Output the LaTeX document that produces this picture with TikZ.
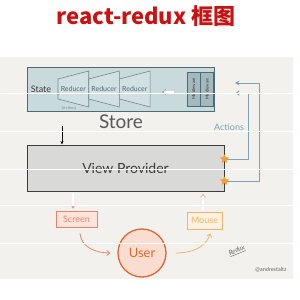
\documentclass[tikz,border=0pt]{standalone}
\usepackage{fontspec}
\setmainfont{Lato}
\newfontfamily\cjk{Noto Sans CJK SC}
\newfontfamily\hand{Lato}
\usepackage{tikz}
\usetikzlibrary{positioning}
\usetikzlibrary{shapes.geometric}
\usetikzlibrary{arrows.meta}
\usepackage{xcolor}

\definecolor{titlered}{HTML}{CC1111}
\definecolor{panelgray}{HTML}{F2F1EE}
\definecolor{storefill}{HTML}{C9DADD}
\definecolor{storeline}{HTML}{4E6B75}
\definecolor{viewfill}{HTML}{D9D9D7}
\definecolor{viewline}{HTML}{3C3C3C}
\definecolor{actblue}{HTML}{7FA3B0}
\definecolor{screenred}{HTML}{EE8466}
\definecolor{screenfill}{HTML}{FBE4DC}
\definecolor{mouseorange}{HTML}{F4B366}
\definecolor{mousefill}{HTML}{FDF1E2}
\definecolor{userline}{HTML}{E0672D}
\definecolor{userfill}{HTML}{F8DDD0}
\definecolor{starorange}{HTML}{F5A030}

\tikzset{
  sz/.style={font=\hand\fontsize{#1}{#1}\selectfont},
  storebox/.style={draw=storeline, fill=storefill, line width=0.9pt},
  reducer/.style={draw=storeline!80, fill=storefill!85!white, line width=0.6pt},
  midbox/.style={draw=storeline, fill=storeline!30!storefill, line width=0.6pt,
    minimum width=13pt, minimum height=34pt, inner sep=0pt},
  viewbox/.style={draw=viewline, fill=viewfill, line width=1pt},
  act/.style={draw=actblue, line width=1pt},
  bang/.style={star, star points=5, star point ratio=2.2, fill=starorange,
    minimum size=9pt, inner sep=0pt},
  dbl/.style={double, double distance=1.4pt, line width=0.6pt,
    -{Implies[length=3pt]}},
}

\begin{document}
\begin{tikzpicture}[x=1pt,y=-1pt]
  \useasboundingbox (0,0) rectangle (300,300);
  \node[text=titlered] (title) at (146,16)
    {\cjk\bfseries\fontsize{22}{22}\selectfont react-redux 框图};
  \fill[panelgray] (0,57) rectangle (293,279);

  % store
  \node[storebox, minimum width=187pt, minimum height=44pt] (store) at (120.5,89) {};
  \node[sz=9, text=viewline] (state) at (41,89) {State};
  \foreach \i in {0,1,2} {
    \pgfmathsetmacro\xa{58+30.7*\i}
    \pgfmathsetmacro\xb{\xa+30.7}
    \draw[reducer] (\xa,79) -- (\xb,71) -- (\xb,107) -- (\xa,99) -- cycle;
    \node[sz=7, text=storeline, inner sep=0pt] (red\i) at (\xa/2+\xb/2,89) {Reducer};
  }
  \node[sz=4, text=storeline!70] (sect) at (69,108) {Sections};
  \draw[storeline!60, dbl] (174,92) -- (162,92);
  \node[midbox] (mid1) at (193.5,89) {};
  \node[midbox, right=0pt of mid1] (mid2) {};
  \foreach \m in {mid1,mid2}
    \node[sz=4.2, rotate=90, text=viewline] at (\m) {Middleware};
  \node[sz=19, text=viewline!85] (storelbl) at (121,122) {Store};

  % view provider
  \node[viewbox, minimum width=197pt, minimum height=46pt, sz=14, text=viewline]
    (view) at (125.5,168) {View Provider};
  \coordinate (down) at (62,126);
  \draw[line width=0.6pt, -{Stealth[length=3.5pt,width=3pt]}] (down) -- (down |- view.north);

  % actions
  \node[bang] (s1) at ([yshift=9pt]view.east) {};
  \node[bang] (s2) at ([yshift=-13pt]view.east) {};
  \coordinate (a1) at (235,83);
  \coordinate (a2) at (236,93);
  \draw[act, -{Stealth[length=4.5pt,width=4.5pt]}] (s2.center) -| (259,83) -- (a1);
  \draw[act, -{Straight Barb[length=2.5pt,width=4.5pt]}] (s1.center) -| (248,93) -- (a2);
  \node[bang] at (s1) {};
  \node[bang] at (s2) {};
  \node[sz=9, text=actblue] (actions) at (229,127) {Actions};

  % user loop
  \node[draw=screenred, fill=screenfill, line width=0.8pt, minimum width=41pt,
    minimum height=16pt, inner sep=0pt, sz=9, text=screenred] (screen) at (76.5,219) {Screen};
  \node[draw=mouseorange, fill=mousefill, line width=0.8pt, minimum width=35pt,
    minimum height=17pt, inner sep=0pt, sz=9, text=mouseorange] (mouse) at (204.5,220.5) {Mouse};
  \node[circle, draw=userline, fill=userfill, line width=1.3pt, minimum size=48pt,
    sz=13, text=userline] (user) at (142,253) {User};
  \draw[screenred, dbl]
    ([xshift=-52.5pt,yshift=-1pt]view.south) -- ([xshift=-3.5pt,yshift=2pt]screen.north);
  \draw[mouseorange, dbl]
    ([xshift=-1.5pt,yshift=2pt]mouse.north) -- ([xshift=77.5pt,yshift=-2pt]view.south);
  \draw[screenred, line width=0.8pt, -{Straight Barb[length=3pt,width=5pt]}]
    ([xshift=3.5pt,yshift=-6pt]screen.south) to[out=-85,in=180] ([xshift=-7pt]user.west);
  \draw[mouseorange, line width=0.8pt, -{Straight Barb[length=3pt,width=5pt]}]
    ([xshift=9pt]user.east) to[out=0,in=-110] ([xshift=6pt,yshift=-4pt]mouse.south);

  \node[sz=6.5, text=viewline!80, rotate=22] (redux) at (237,251) {\underline{\itshape Redux}};
  \node[sz=5.5, text=viewline!80] (sign) at (271,270) {@andrestaltz};

  \foreach \y in {93,131,169,205,243}
    \draw[white, line width=0.7pt] (0,\y) -- (293,\y);
\end{tikzpicture}
\end{document}
